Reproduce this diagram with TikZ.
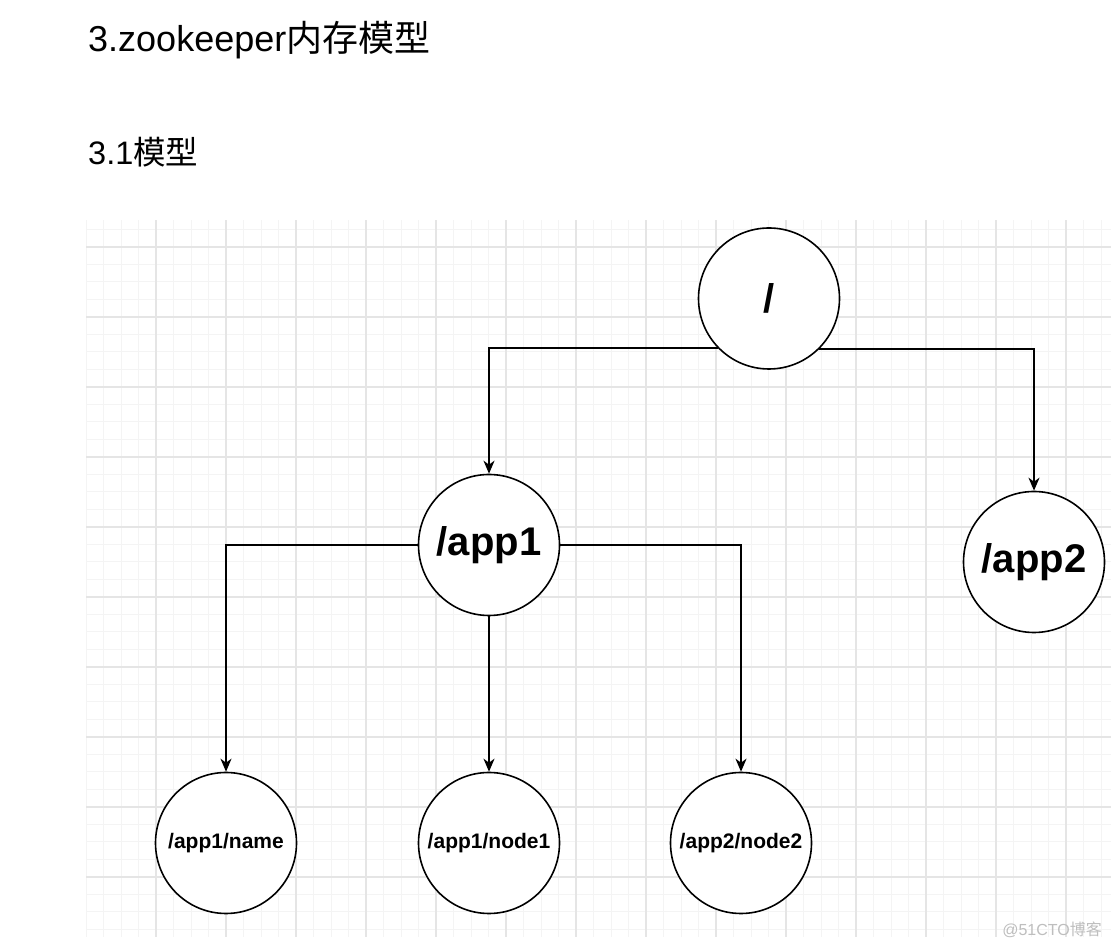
\documentclass[tikz,border=0pt]{standalone}
\usepackage{fontspec}
\setmainfont{Liberation Sans}
\newfontfamily\cjk{Noto Sans CJK SC}
\usetikzlibrary{arrows.meta}
\definecolor{minorgrid}{RGB}{244,244,244}
\definecolor{majorgrid}{RGB}{229,229,229}
\definecolor{wmark}{RGB}{190,190,190}
\tikzset{
  treenode/.style={circle, draw=black, line width=1.6pt, fill=white, minimum size=141pt, inner sep=0pt, font=\bfseries},
  bigtext/.style={font=\fontsize{40}{44}\selectfont\bfseries},
  smalltext/.style={font=\fontsize{21}{24}\selectfont\bfseries},
  conn/.style={draw=black, line width=1.9pt, -{Stealth[length=13pt,width=11pt,inset=4pt]}},
}
\begin{document}
\begin{tikzpicture}[x=1pt,y=1pt]
\useasboundingbox (0,0) rectangle (1111,950);
\fill[white] (0,0) rectangle (1111,950);
% grid
\begin{scope}
\clip (86,13) rectangle (1111,729);
\foreach \i in {0,...,58} {
  \draw[minorgrid, line width=1pt] ({86+17.5*\i},0) -- ({86+17.5*\i},950);
}
\foreach \i in {0,...,42} {
  \draw[minorgrid, line width=1pt] (0,{720.5-17.5*\i}) -- (1111,{720.5-17.5*\i});
}
\foreach \i in {0,...,14} {
  \draw[majorgrid, line width=1.2pt] ({156+70*\i},0) -- ({156+70*\i},950);
}
\foreach \i in {0,...,10} {
  \draw[majorgrid, line width=1.2pt] (0,{703-70*\i}) -- (1111,{703-70*\i});
}
\end{scope}
% titles
\node[anchor=base west, inner sep=0pt, font=\fontsize{36}{40}\selectfont] (title) at (88,898) {3.zookeeper{\cjk 内存模型}};
\node[anchor=base west, inner sep=0pt, font=\fontsize{32.5}{36}\selectfont] (subtitle) at (88,785) {3.1{\cjk 模型}};
% nodes
\node[treenode, bigtext] (root) at (769,651.5) {/};
\node[treenode, bigtext] (app1) at (489,405) {/app1};
\node[treenode, bigtext] (app2) at (1034,388) {/app2};
\node[treenode, smalltext] (name) at (226,107) {/app1/name};
\node[treenode, smalltext] (node1) at (489,107) {/app1/node1};
\node[treenode, smalltext] (node2) at (741,107) {/app2/node2};
% connectors
\draw[conn] (root.224.4) -| (app1.north);
\draw[conn] (root.315.6) -| (app2.north);
\draw[conn] (app1.west) -| (name.north);
\draw[conn] (app1.south) -- (node1.north);
\draw[conn] (app1.east) -| (node2.north);
% watermark
\node[anchor=base east, inner sep=0pt, text=wmark, font=\fontsize{16}{18}\selectfont] (wm) at (1102,14) {@51CTO{\cjk 博客}};
\end{tikzpicture}
\end{document}
